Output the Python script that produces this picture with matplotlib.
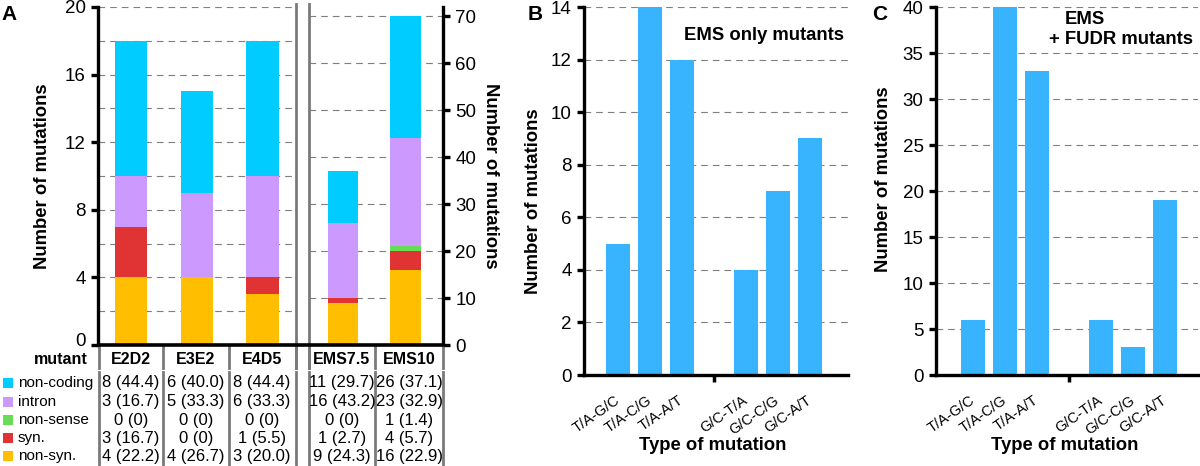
import matplotlib
matplotlib.use("Agg")
import matplotlib.pyplot as plt
from matplotlib.ticker import MultipleLocator
from matplotlib.transforms import ScaledTranslation
import numpy as np

plt.rcParams['font.family'] = ['Liberation Sans', 'DejaVu Sans']

W, H = 1200, 466

# panel A: mutations per class for each mutant (table counts)
mutants = ['E2D2', 'E3E2', 'E4D5', 'EMS7.5', 'EMS10']
classes = ['non-coding', 'intron', 'non-sense', 'syn.', 'non-syn.']
class_colors = ['#00CCFF', '#CC99FF', '#66DD55', '#E03333', '#FFBF00']
non_coding = [8, 6, 8, 11, 26]
intron = [3, 5, 6, 16, 23]
non_sense = [0, 0, 0, 0, 1]
syn = [3, 0, 1, 1, 4]
non_syn = [4, 4, 3, 9, 16]
non_coding_pct = ['44.4', '40.0', '44.4', '29.7', '37.1']
intron_pct = ['16.7', '33.3', '33.3', '43.2', '32.9']
non_sense_pct = ['0', '0', '0', '0', '1.4']
syn_pct = ['16.7', '0', '5.5', '2.7', '5.7']
non_syn_pct = ['22.2', '26.7', '20.0', '24.3', '22.9']

# panels B and C
mut_types = ['T/A-G/C', 'T/A-C/G', 'T/A-A/T', 'G/C-T/A', 'G/C-C/G', 'G/C-A/T']
ems_only = [5, 14, 12, 4, 7, 9]
ems_fudr = [6, 40, 33, 6, 3, 19]

counts = [non_coding, intron, non_sense, syn, non_syn]
pcts = [non_coding_pct, intron_pct, non_sense_pct, syn_pct, non_syn_pct]
bar_blue = '#38B4FF'
grid_kw = dict(color='#7f7f7f', linestyle=(0, (6, 4.5)), linewidth=0.8)
TICK_FS = 13.5
LABEL_FS = 13.3


def rect(x0, y0, x1, y1):
    # pixel box (top-left origin) -> figure fraction
    return [x0 / W, 1 - y1 / H, (x1 - x0) / W, (y1 - y0) / H]


def stacked(ax, cols):
    xs = np.arange(len(cols))
    bottom = np.zeros(len(cols))
    # stack from non-syn at the bottom up to non-coding
    for vals, c in zip(counts[::-1], class_colors[::-1]):
        v = np.array([vals[i] for i in cols], dtype=float)
        ax.bar(xs, v, 0.49, bottom=bottom, color=c, zorder=2)
        bottom += v


fig = plt.figure(figsize=(12, 4.66), dpi=100)

# ---- panel A, left group
axL = fig.add_axes(rect(98, 7, 292, 345))
stacked(axL, [0, 1, 2])
axL.set_xlim(-0.5, 2.45)
axL.set_ylim(0, 20)
axL.set_yticks(np.arange(0, 21, 4))
axL.set_yticks(np.arange(2, 20, 4), minor=True)
axL.grid(axis='y', which='both', zorder=1, **grid_kw)
axL.set_xticks([])
axL.tick_params(axis='y', which='major', direction='out', length=5, width=2.4,
                labelsize=TICK_FS, pad=4)
axL.tick_params(axis='y', which='minor', length=0)
for s in ['top', 'right', 'bottom']:
    axL.spines[s].set_visible(False)
axL.spines['left'].set_linewidth(2.4)
axL.set_axisbelow(True)
# the "0" label sits a little above the base line
zero = axL.get_yticklabels()[0]
zero.set_transform(zero.get_transform() + ScaledTranslation(0, 6 / 100, fig.dpi_scale_trans))

# ---- panel A, right group (EMS)
axR = fig.add_axes(rect(309, 7, 443, 345))
stacked(axR, [3, 4])
axR.set_xlim(-0.54, 1.59)
axR.set_ylim(0, 72)
axR.yaxis.set_major_locator(MultipleLocator(10))
axR.yaxis.tick_right()
axR.grid(axis='y', zorder=1, **grid_kw)
axR.set_xticks([])
axR.tick_params(axis='y', direction='out', length=5, width=2.4, labelsize=TICK_FS, pad=4)
for s in ['top', 'left', 'bottom']:
    axR.spines[s].set_visible(False)
axR.spines['right'].set_linewidth(2.4)
axR.set_axisbelow(True)


# ---- panels B and C
def mut_panel(rect_px, vals, ymax, step, xlim):
    ax = fig.add_axes(rect(*rect_px))
    pos = [0, 1, 2, 4, 5, 6]
    ax.bar(pos, vals, 0.75, color=bar_blue, zorder=2)
    ax.set_xlim(*xlim)
    ax.set_ylim(0, ymax)
    ax.yaxis.set_major_locator(MultipleLocator(step))
    ax.grid(axis='y', zorder=1, **grid_kw)
    ax.set_axisbelow(True)
    ax.set_xticks(pos)
    ax.set_xticklabels(mut_types, rotation=35, ha='right', va='center',
                       rotation_mode='anchor', fontsize=10.5)
    shift = ScaledTranslation(4 / 100, 0, fig.dpi_scale_trans)
    for lab in ax.get_xticklabels():
        lab.set_transform(lab.get_transform() + shift)
    ax.set_xticks([3], minor=True)
    ax.tick_params(axis='x', which='major', length=0, pad=17)
    ax.tick_params(axis='x', which='minor', direction='out', length=5, width=2.5)
    ax.tick_params(axis='y', direction='out', length=5, width=2.4, labelsize=TICK_FS, pad=4)
    for s in ['top', 'right']:
        ax.spines[s].set_visible(False)
    ax.spines['left'].set_linewidth(2.4)
    ax.spines['bottom'].set_linewidth(2.4)
    return ax


axB = mut_panel((584, 7, 848, 375), ems_only, 14, 2, (-1.06, 7.19))
axC = mut_panel((936, 7, 1198, 375), ems_fudr, 40, 5, (-1.16, 7.03))

# ---- overlay in pixel coordinates for table, separators and labels
axo = fig.add_axes([0, 0, 1, 1], zorder=5)
axo.set_xlim(0, W)
axo.set_ylim(H, 0)
axo.axis('off')

gray = '#7a7a7a'
for x in [296, 309]:
    axo.plot([x, x], [4, 368], color=gray, lw=2)
for x in [99, 163, 229, 296, 309, 375, 443]:
    axo.plot([x, x], [345, 368], color=gray, lw=2)
    axo.plot([x, x], [372, 466], color=gray, lw=2)
axo.plot([97, 445], [345, 345], color='black', lw=2.6, solid_capstyle='butt')

col_x = [131, 196, 262, 342, 409]
axo.text(88, 359, 'mutant', ha='right', va='center', fontsize=11.5, fontweight='bold')
for cx, name in zip(col_x, mutants):
    axo.text(cx, 359, name, ha='center', va='center', fontsize=11.5, fontweight='bold')

row_y = [383, 401.5, 420, 438, 456]
for ry, cls, col, vals, pc in zip(row_y, classes, class_colors, counts, pcts):
    axo.scatter([7.5], [ry], marker='s', s=55, color=col, linewidths=0)
    axo.text(18, ry, cls, ha='left', va='center', fontsize=11)
    for cx, v, p in zip(col_x, vals, pc):
        axo.text(cx, ry, f'{v} ({p})', ha='center', va='center', fontsize=12)

# axis titles and panel letters
axo.text(43, 176, 'Number of mutations', rotation=90, ha='center', va='center',
         fontsize=LABEL_FS, fontweight='bold')
axo.text(490, 176, 'Number of mutations', rotation=270, ha='center', va='center',
         fontsize=LABEL_FS, fontweight='bold')
axo.text(533, 201, 'Number of mutations', rotation=90, ha='center', va='center',
         fontsize=LABEL_FS, fontweight='bold')
axo.text(883, 179, 'Number of mutations', rotation=90, ha='center', va='center',
         fontsize=LABEL_FS, fontweight='bold')
axo.text(713, 445, 'Type of mutation', ha='center', va='center', fontsize=LABEL_FS, fontweight='bold')
axo.text(1065, 445, 'Type of mutation', ha='center', va='center', fontsize=LABEL_FS, fontweight='bold')
axo.text(764, 35, 'EMS only mutants', ha='center', va='center', fontsize=13.3, fontweight='bold')
axo.text(1065, 20, 'EMS', ha='left', va='center', fontsize=13.3, fontweight='bold')
axo.text(1049, 40, '+ FUDR mutants', ha='left', va='center', fontsize=13.3, fontweight='bold')
for x, letter in [(9, 'A'), (535, 'B'), (880, 'C')]:
    axo.text(x, 15, letter, ha='center', va='center', fontsize=15, fontweight='bold')

fig.savefig('out.png', dpi=100)
